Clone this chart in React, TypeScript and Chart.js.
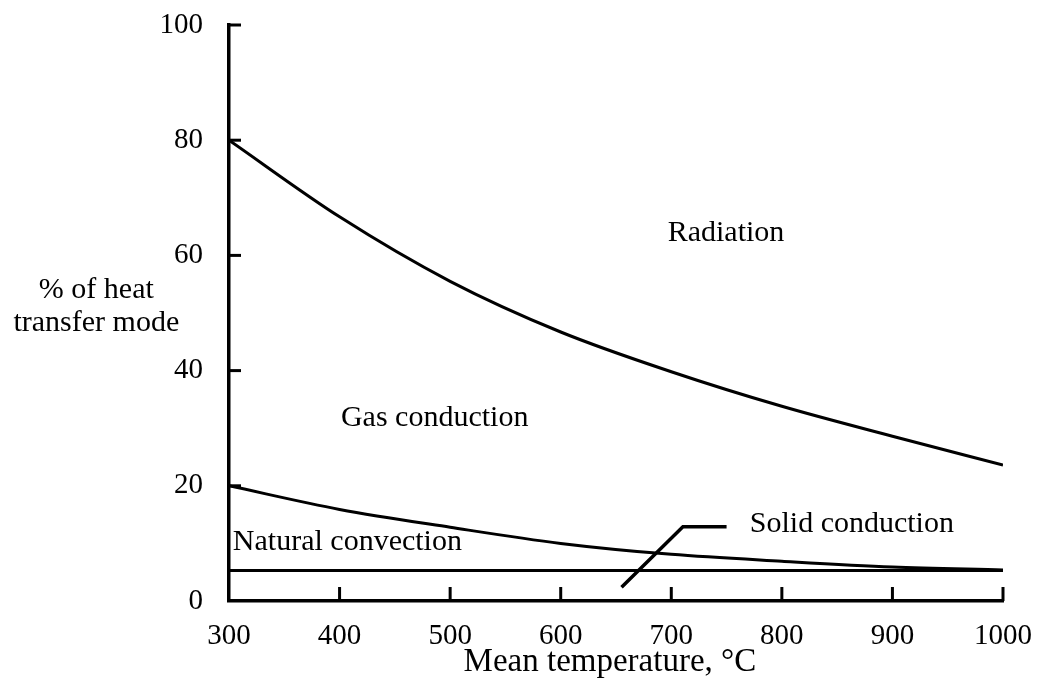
import React, { useEffect, useRef } from "react";
import { Chart, registerables } from "chart.js";

Chart.register(...registerables);

// ---- data ----
const temps = [300, 400, 500, 600, 700, 800, 900, 1000];
const radiationBoundary = [80, 66.7, 55.5, 46.7, 39.8, 33.8, 28.6, 23.6];
const convectionBoundary = [20, 15.9, 12.8, 10.0, 8.1, 6.9, 5.9, 5.4];
const solidTemps = [300, 1000];
const solidLevel = [5.3, 5.3];
const leaderTemps = [655, 710.5, 750];
const leaderValues = [2.4, 12.9, 12.9];

const xTickValues = [300, 400, 500, 600, 700, 800, 900, 1000];
const yTickValues = [0, 20, 40, 60, 80, 100];

const regionLabels = ["Radiation", "Gas conduction", "Natural convection", "Solid conduction"];
const regionLabelTemps = [749.5, 486, 303.5, 771];
const regionLabelValues = [63.8, 31.8, 10.2, 13.3];
const regionLabelAlign = ["center", "center", "left", "left"];

const yTitleLines = ["% of heat", "transfer mode"];
const yTitleTemp = 180;
const yTitleValues = [53.9, 48.2];
const xTitle = "Mean temperature, °C";
const xTitleTemp = 644.5;
const xTitleValue = -10.7;

const FONT = '"Liberation Serif", "Times New Roman", serif';

const overlayPlugin = {
  id: "overlay",
  afterDraw(chart: any) {
    const ctx = chart.ctx;
    const xs = chart.scales.x;
    const ys = chart.scales.y;
    const area = chart.chartArea;
    ctx.save();
    ctx.strokeStyle = "#000";
    ctx.lineWidth = 3;
    ctx.lineCap = "butt";
    // inward tick marks on x axis
    xTickValues.forEach((v) => {
      if (v === 300) return;
      const px = xs.getPixelForValue(v);
      ctx.beginPath();
      ctx.moveTo(px, area.bottom);
      ctx.lineTo(px, area.bottom - 14);
      ctx.stroke();
    });
    // inward tick marks on y axis
    yTickValues.forEach((v) => {
      if (v === 0) return;
      const py = ys.getPixelForValue(v);
      ctx.beginPath();
      ctx.moveTo(area.left, py);
      ctx.lineTo(area.left + 12, py);
      ctx.stroke();
    });
    // region labels
    ctx.fillStyle = "#000";
    ctx.font = `30px ${FONT}`;
    ctx.textBaseline = "middle";
    regionLabels.forEach((t, i) => {
      ctx.textAlign = regionLabelAlign[i] as CanvasTextAlign;
      ctx.fillText(t, xs.getPixelForValue(regionLabelTemps[i]), ys.getPixelForValue(regionLabelValues[i]));
    });
    // y title (horizontal, two lines)
    ctx.textAlign = "center";
    yTitleLines.forEach((t, i) => {
      ctx.fillText(t, xs.getPixelForValue(yTitleTemp), ys.getPixelForValue(yTitleValues[i]));
    });
    // x title
    ctx.font = `33px ${FONT}`;
    ctx.fillText(xTitle, xs.getPixelForValue(xTitleTemp), ys.getPixelForValue(xTitleValue));
    ctx.restore();
  },
};

export default function App() {
  const ref = useRef<HTMLCanvasElement>(null);
  useEffect(() => {
    if (!ref.current) return;
    const line = (data: { x: number; y: number }[], width: number) => ({
      data,
      borderColor: "#000",
      borderWidth: width,
      pointRadius: 0,
      fill: false,
      cubicInterpolationMode: "monotone" as const,
    });
    const chart = new Chart(ref.current, {
      type: "line",
      data: {
        datasets: [
          line(temps.map((t, i) => ({ x: t, y: radiationBoundary[i] })), 3),
          line(temps.map((t, i) => ({ x: t, y: convectionBoundary[i] })), 3),
          line(solidTemps.map((t, i) => ({ x: t, y: solidLevel[i] })), 3),
          { ...line(leaderTemps.map((t, i) => ({ x: t, y: leaderValues[i] })), 3.5), cubicInterpolationMode: "default" as const, tension: 0 },
        ],
      },
      options: {
        responsive: false,
        animation: false,
        layout: { padding: { top: 25, right: 34, left: 0, bottom: 0 } },
        plugins: { legend: { display: false }, tooltip: { enabled: false } },
        scales: {
          x: {
            type: "linear",
            min: 300,
            max: 1000,
            afterFit: (s: any) => { s.height = 91; s.paddingLeft = 0; s.paddingRight = 0; },
            afterBuildTicks: (s: any) => { s.ticks = xTickValues.map((v) => ({ value: v })); },
            grid: { display: false, drawTicks: false },
            border: { display: true, color: "#000", width: 3.5 },
            ticks: { color: "#000", font: { family: FONT, size: 29 }, padding: 18, maxRotation: 0, callback: (v: any) => String(v) },
            title: { display: false },
          },
          y: {
            type: "linear",
            min: 0,
            max: 100,
            afterFit: (s: any) => { s.width = 229; s.paddingTop = 0; s.paddingBottom = 0; },
            afterBuildTicks: (s: any) => { s.ticks = yTickValues.map((v) => ({ value: v })); },
            grid: { display: false, drawTicks: false },
            border: { display: true, color: "#000", width: 3.5 },
            ticks: { color: "#000", font: { family: FONT, size: 29 }, padding: 26, callback: (v: any) => String(v) },
          },
        },
      },
      plugins: [overlayPlugin],
    });
    return () => chart.destroy();
  }, []);
  return (
    <div style={{ position: "absolute", left: 0, top: 0, width: 1037, height: 692, background: "#fff" }}>
      <canvas ref={ref} width={1037} height={692} style={{ display: "block" }} />
    </div>
  );
}
